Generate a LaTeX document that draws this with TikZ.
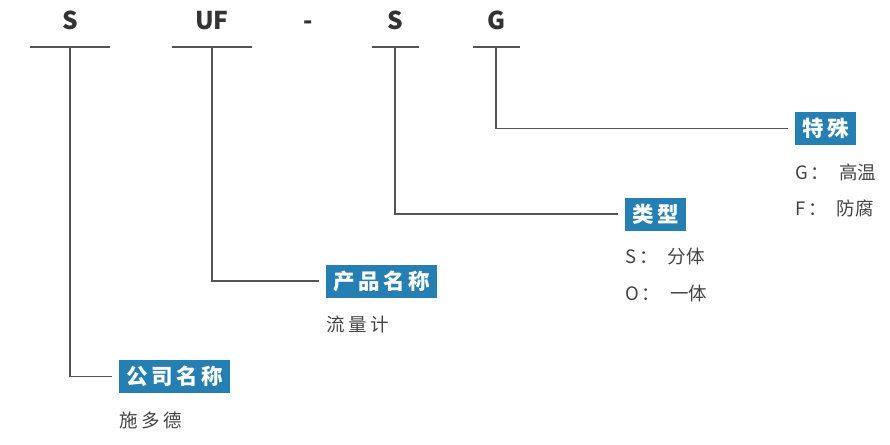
\documentclass[tikz,border=0pt]{standalone}
\usepackage{fontspec}
\setmainfont{Noto Sans CJK SC}
\newfontfamily\cjk{Noto Sans CJK SC}
\definecolor{boxblue}{RGB}{38,127,178}
\definecolor{linegray}{RGB}{85,85,85}
\definecolor{headgray}{RGB}{51,51,51}
\definecolor{descgray}{RGB}{68,68,68}
\tikzset{
  head/.style={font=\cjk\fontsize{24.5}{24.5}\selectfont\bfseries, text=headgray, inner sep=0pt, anchor=base},
  label/.style={fill=boxblue, text=white, font=\cjk\fontsize{21.5}{21.5}\selectfont\bfseries, inner xsep=7pt, inner ysep=0pt, minimum height=33pt, anchor=west},
  desc/.style={font=\cjk\fontsize{18.5}{18.5}\selectfont, text=descgray, inner sep=0pt, anchor=west},
  conn/.style={draw=linegray, line width=1.3pt},
}
\newcommand{\ls}{\hspace{3.5pt}}
\newcommand{\cl}{\hspace{3pt}：\hspace{10pt}}
\begin{document}
\begin{tikzpicture}[x=1pt,y=-1pt]
\useasboundingbox (0,0) rectangle (890,444);
% heading letters
\node[head] (h1) at (70,30) {S};
\node[head] (h2) at (212,30) {UF};
\node[head] (h3) at (308,30) {-};
\node[head] (h4) at (395,30) {S};
\node[head] (h5) at (496,30) {G};
% underlines
\coordinate (u1l) at (30,47); \coordinate (u1r) at (110,47); \coordinate (u1) at (70,47);
\coordinate (u2l) at (172,47); \coordinate (u2r) at (252,47); \coordinate (u2) at (212,47);
\coordinate (u4l) at (372,47); \coordinate (u4r) at (419,47); \coordinate (u4) at (395,47);
\coordinate (u5l) at (473,47); \coordinate (u5r) at (520,47); \coordinate (u5) at (496,47);
\draw[conn] (u1l) -- (u1r);
\draw[conn] (u2l) -- (u2r);
\draw[conn] (u4l) -- (u4r);
\draw[conn] (u5l) -- (u5r);
% label boxes
\node[label] (b5) at (795,128.5) {特\ls 殊};
\node[label] (b4) at (625,214) {类\ls 型};
\node[label] (b2) at (326,281) {产\ls 品\ls 名\ls 称};
\node[label] (b1) at (119,376.5) {公\ls 司\ls 名\ls 称};
% connectors
\draw[conn, shorten >=7pt] (u5) |- (b5.west);
\draw[conn, shorten >=7pt] (u4) |- (b4.west);
\draw[conn, shorten >=7pt] (u2) |- (b2.west);
\draw[conn, shorten >=7pt] (u1) |- (b1.west);
% descriptions
\node[desc] (d5a) at (795,172) {G\cl 高温};
\node[desc] (d5b) at (795,208) {F\cl 防腐};
\node[desc] (d4a) at (625,257) {S\cl 分体};
\node[desc] (d4b) at (625,293) {O\cl 一体};
\node[desc] (d2) at (326,324) {流\ls 量\ls 计};
\node[desc] (d1) at (119,420) {施\ls 多\ls 德};
\end{tikzpicture}
\end{document}
